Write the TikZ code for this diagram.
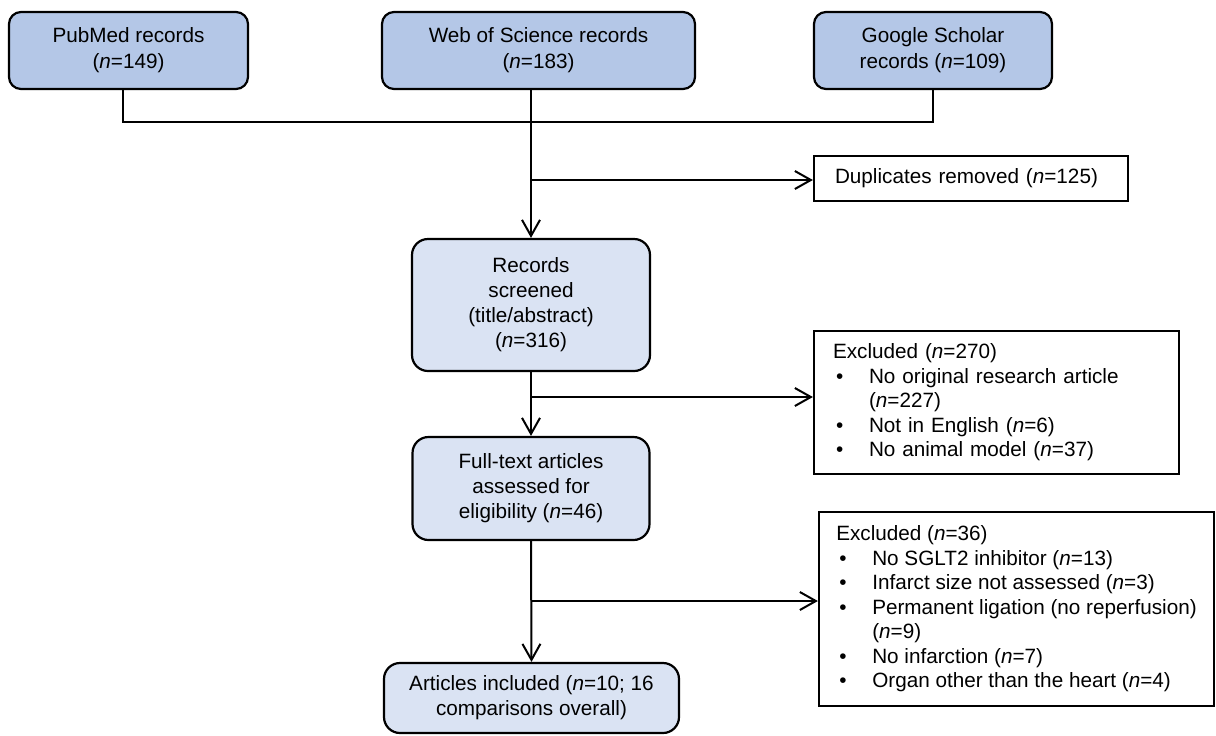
\documentclass[tikz,border=0pt]{standalone}
\usepackage{fontspec}
\setmainfont{Liberation Sans}
\usetikzlibrary{arrows.meta}

\definecolor{srcblue}{HTML}{B4C7E7}
\definecolor{stepblue}{HTML}{DAE3F3}
\newcommand{\bul}{\hspace*{1.5pt}\makebox[16.5pt][l]{\textbullet}}
\newcommand{\cont}{\hspace*{18pt}}

\begin{document}
\begin{tikzpicture}[x=0.5pt, y=-0.5pt,
  source/.style={rectangle, rounded corners=6pt, draw, line width=1.1pt, fill=srcblue,
    align=center, inner sep=0pt, font=\fontsize{10.35pt}{13pt}\selectfont},
  stage/.style={rectangle, rounded corners=8pt, draw, line width=1.1pt, fill=stepblue,
    align=center, inner sep=0pt, font=\fontsize{10.35pt}{12.5pt}\selectfont},
  exclbox/.style={rectangle, draw, line width=1.1pt, align=left, inner ysep=0pt,
    font=\fontsize{10.35pt}{12.25pt}\selectfont},
  arr/.style={-{Straight Barb[length=8pt,width=9pt]}, line width=1pt}
]
\useasboundingbox (0,0) rectangle (1216,735);

% sources
\node[source, minimum width=119.5pt, minimum height=38.5pt] (pub) at (128.5,50.5)
  {PubMed records\\(\textit{n}=149)};
\node[source, minimum width=156.5pt, minimum height=38.5pt] (wos) at (538.5,50.5)
  {Web of Science records\\(\textit{n}=183)};
\node[source, minimum width=119pt, minimum height=38.5pt] (gs) at (933,50.5)
  {Google Scholar\\records (\textit{n}=109)};

% stages
\node[stage, minimum width=119pt, minimum height=66pt] (rec) at (531,305)
  {Records\\screened\\(title/abstract)\\(\textit{n}=316)};
\node[stage, minimum width=118.5pt, minimum height=51.5pt] (ft) at (531,488.5)
  {Full-text articles\\assessed for\\eligibility (\textit{n}=46)};
\node[stage, minimum width=147.5pt, minimum height=35pt] (inc) at (531.5,698)
  {Articles included (\textit{n}=10; 16\\comparisons overall)};

% exclusions
\node[exclbox, inner xsep=10.5pt, text width=136pt, minimum height=22.5pt] (dup) at (971,178.5)
  {Duplicates removed (\textit{n}=125)};
\node[exclbox, inner xsep=9.5pt, text width=163.5pt, minimum height=71.5pt] (exa) at (996.5,402.5)
  {Excluded (\textit{n}=270)\\
   \bul No original research article\\
   \cont(\textit{n}=227)\\
   \bul Not in English (\textit{n}=6)\\
   \bul No animal model (\textit{n}=37)};
\node[exclbox, inner xsep=0pt, minimum width=197.5pt, minimum height=97pt] (exb) at (1016.5,609)
  {Excluded (\textit{n}=36)\\
   \bul No SGLT2 inhibitor (\textit{n}=13)\\
   \bul Infarct size not assessed (\textit{n}=3)\\
   \bul Permanent ligation (no reperfusion)\\
   \cont(\textit{n}=9)\\
   \bul No infarction (\textit{n}=7)\\
   \bul Organ other than the heart (\textit{n}=4)};

% branch points
\coordinate (join) at (531,122);
\coordinate (b1) at (531,180);
\coordinate (b2) at (531,397);
\coordinate (b3) at (531,601);

% connectors
\draw[line width=1pt] ([xshift=-3pt]pub.south) |- (join) -| (gs.south);
\draw[arr] (wos.south -| rec.north) -- (rec.north);
\draw[arr] (b1) -- (b1 -| dup.west);
\draw[arr] (rec.south) -- (ft.north);
\draw[arr] (b2) -- (b2 -| exa.west);
\draw[arr] (ft.south) -- (inc.north);
\draw[arr] (b3) -- (b3 -| exb.west);

\end{tikzpicture}
\end{document}
